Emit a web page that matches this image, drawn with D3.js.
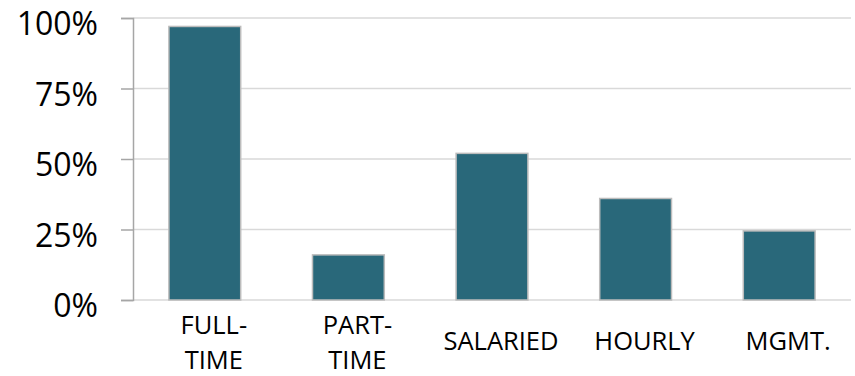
<!DOCTYPE html>
<html>
<head>
<meta charset="utf-8">
<script src="https://cdn.jsdelivr.net/npm/d3@7"></script>
<style>
  html, body { margin: 0; padding: 0; background: #fff; }
  svg { display: block; }
</style>
</head>
<body>
<svg id="chart" width="855" height="376"></svg>
<script>
// Share of employees by category
const categories = ["FULL-TIME", "PART-TIME", "SALARIED", "HOURLY", "MGMT."];
const labelLines = [["FULL-", "TIME"], ["PART-", "TIME"], ["SALARIED"], ["HOURLY"], ["MGMT."]];
const values = [0.97, 0.16, 0.52, 0.36, 0.245];
const yTicks = [0, 0.25, 0.5, 0.75, 1];

const svg = d3.select("#chart");
const plotLeft = 133, plotRight = 851, plotTop = 18, plotBottom = 300;

const x = d3.scaleBand()
  .domain(categories)
  .range([plotLeft, plotRight])
  .paddingInner(0.5)
  .paddingOuter(0.25);

const y = d3.scaleLinear().domain([0, 1]).range([plotBottom, plotTop]);

// horizontal gridlines
svg.append("g")
  .selectAll("line")
  .data(yTicks)
  .join("line")
  .attr("x1", plotLeft).attr("x2", plotRight)
  .attr("y1", d => y(d)).attr("y2", d => y(d))
  .attr("stroke", "#d9d9d9")
  .attr("stroke-width", 1.5);

// y axis with outward ticks
const yAxis = svg.append("g")
  .attr("transform", `translate(${plotLeft},0)`)
  .call(d3.axisLeft(y).tickValues(yTicks).tickFormat(d3.format(".0%")).tickSize(12).tickPadding(23));
yAxis.select(".domain").attr("stroke", "#a6a6a6").attr("stroke-width", 1.5);
yAxis.selectAll(".tick line").attr("stroke", "#a6a6a6").attr("stroke-width", 1.5);
yAxis.selectAll(".tick text")
  .attr("font-family", "'Open Sans', sans-serif")
  .attr("font-size", "32px")
  .attr("fill", "#000")
  .attr("dy", "0.53em");

// bars
svg.append("g")
  .selectAll("rect")
  .data(values)
  .join("rect")
  .attr("x", (d, i) => x(categories[i]))
  .attr("width", x.bandwidth())
  .attr("y", d => y(d))
  .attr("height", d => y(0) - y(d))
  .attr("fill", "#29687a")
  .attr("stroke", "#bcbcbc")
  .attr("stroke-width", 1.5);

// category labels
const lab = svg.append("g")
  .selectAll("text")
  .data(categories)
  .join("text")
  .attr("text-anchor", "middle")
  .attr("font-family", "'Open Sans', sans-serif")
  .attr("font-size", "25.5px")
  .attr("fill", "#000")
  .attr("transform", d => `translate(${x(d) + x.bandwidth() / 2 + 9},0)`);

lab.each(function(d, i) {
  const lines = labelLines[i];
  const t = d3.select(this);
  const base = lines.length === 1 ? 350 : 334;
  lines.forEach((s, j) => {
    t.append("tspan").attr("x", 0).attr("y", base + j * 34.5).text(s);
  });
});
</script>
</body>
</html>
